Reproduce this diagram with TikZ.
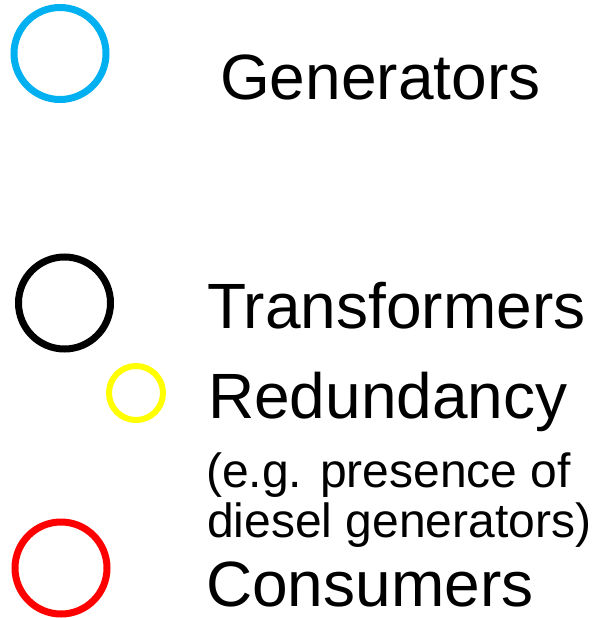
\documentclass[tikz,border=0pt]{standalone}
\usepackage{fontspec}
\setmainfont{Liberation Sans}
\definecolor{genblue}{HTML}{00B0F0}
\definecolor{redyellow}{HTML}{FFFF00}
\definecolor{conred}{HTML}{FF0000}
\tikzset{
  ring/.style={circle, draw, line width=7pt, inner sep=0pt, minimum size=#1},
  bigtext/.style={anchor=base west, inner sep=0pt, font=\fontsize{64}{64}\selectfont},
  smalltext/.style={anchor=base west, inner sep=0pt, font=\fontsize{48}{48}\selectfont}
}
\begin{document}
\begin{tikzpicture}[x=1pt,y=1pt]
\useasboundingbox (0,0) rectangle (594,-618);
\node[ring=92pt, draw=genblue] (gen) at (60,-53.5) {};
\node[ring=92pt, draw=black] (tra) at (64.5,-303) {};
\node[ring=54pt, draw=redyellow, line width=6pt] (red) at (136,-393) {};
\node[ring=92pt, draw=conred] (con) at (61,-568) {};
\node[bigtext] (tgen) at (220,-99) {Generators};
\node[bigtext] (ttra) at (207,-328) {Transformers};
\node[bigtext] (tred) at (208,-418) {Redundancy};
\node[smalltext] (teg) at (206,-487) {(e.g. presence of};
\node[smalltext] (tdie) at (207,-537) {diesel generators)};
\node[bigtext] (tcon) at (206,-606) {Consumers};
\end{tikzpicture}
\end{document}
